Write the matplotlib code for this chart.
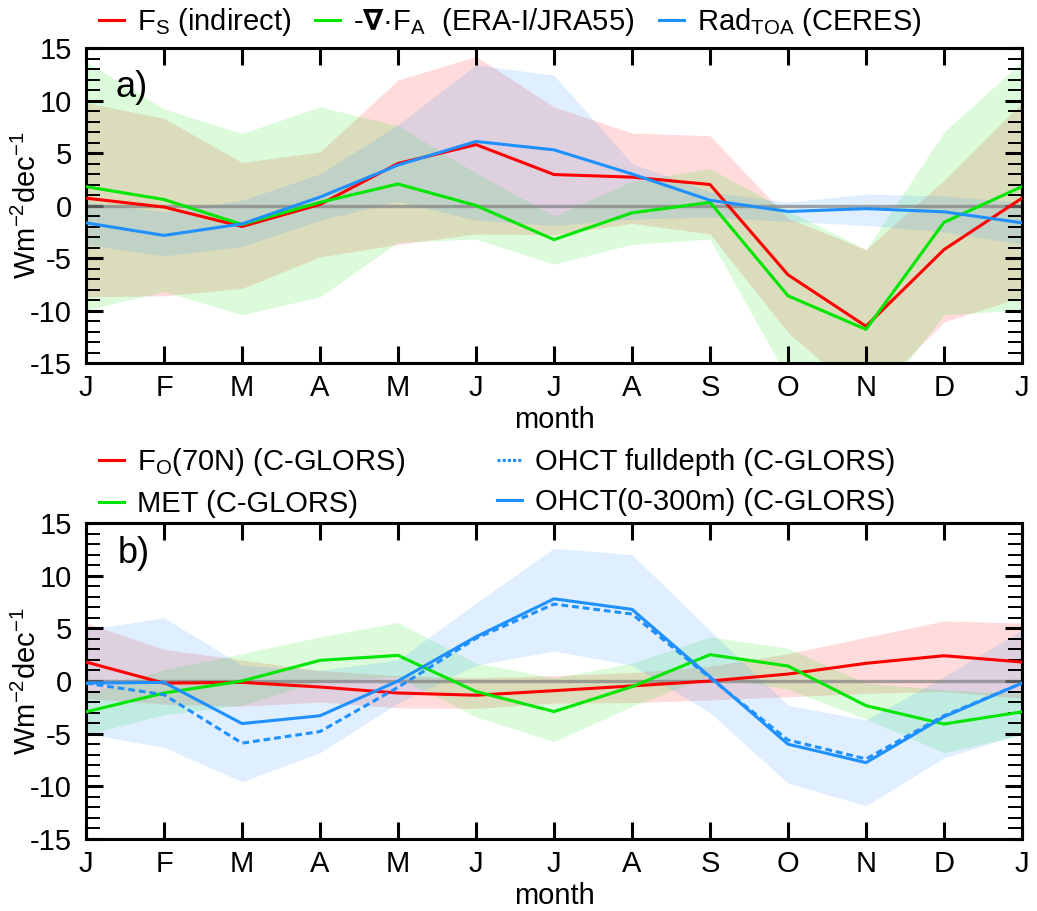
import matplotlib
matplotlib.use("Agg")
import matplotlib.pyplot as plt
import numpy as np
from matplotlib.lines import Line2D
from matplotlib.ticker import MultipleLocator

plt.rcParams['font.family'] = ['Liberation Sans', 'DejaVu Sans']
plt.rcParams['mathtext.default'] = 'regular'
plt.rcParams['axes.unicode_minus'] = False

months = ['J', 'F', 'M', 'A', 'M', 'J', 'J', 'A', 'S', 'O', 'N', 'D', 'J']

# ---- panel a ----
fs = [0.7, -0.15, -2.0, 0.1, 4.0, 5.8, 2.95, 2.7, 2.0, -6.6, -11.5, -4.2, 0.7]
fs_lo = [-8.7, -8.6, -7.9, -4.9, -3.7, -2.7, -2.8, -1.7, -2.7, -12.1, -18.5, -11.1, -8.7]
fs_hi = [9.8, 8.3, 4.1, 5.1, 11.95, 14.2, 9.4, 6.9, 6.65, -1.2, -4.2, 2.4, 9.8]

divfa = [1.8, 0.57, -1.8, 0.3, 2.05, 0.0, -3.25, -0.7, 0.3, -8.6, -11.8, -1.6, 1.8]
divfa_lo = [-9.95, -8.2, -10.4, -8.7, -3.5, -3.2, -5.6, -3.7, -3.2, -16.5, -20.0, -10.4, -9.95]
divfa_hi = [13.7, 9.2, 6.85, 9.4, 7.6, 3.1, -1.0, 2.3, 3.5, -0.5, -4.2, 7.0, 13.7]

rad = [-1.65, -2.85, -1.75, 0.8, 3.85, 6.1, 5.3, 3.0, 0.5, -0.57, -0.3, -0.6, -1.65]
rad_lo = [-3.7, -4.8, -3.9, -1.4, 0.4, -1.4, -1.9, -1.3, -1.1, -1.5, -1.9, -2.5, -3.7]
rad_hi = [0.3, -0.6, 0.5, 3.0, 7.7, 13.4, 12.4, 4.0, 1.3, 0.3, 1.1, 0.9, 0.3]

# ---- panel b ----
fo = [1.8, -0.2, -0.13, -0.57, -1.14, -1.35, -0.92, -0.47, 0.0, 0.66, 1.68, 2.4, 1.8]
fo_lo = [-1.65, -2.2, -2.4, -2.0, -2.55, -2.6, -2.1, -2.05, -1.8, -1.5, -1.17, -1.0, -1.65]
fo_hi = [5.5, 3.0, 2.0, 1.0, 0.5, 0.3, 0.5, 0.8, 1.4, 2.6, 4.15, 5.7, 5.5]

met = [-2.93, -1.14, 0.0, 1.96, 2.43, -1.0, -2.9, -0.54, 2.5, 1.42, -2.34, -4.08, -2.93]
met_lo = [-5.1, -3.2, -2.3, 0.0, 0.4, -3.4, -5.76, -2.4, 0.5, -0.8, -3.6, -6.8, -5.1]
met_hi = [-1.2, 1.07, 2.6, 4.2, 5.55, 1.7, 0.3, 1.7, 4.2, 3.1, -0.2, -0.85, -1.2]

ohct300 = [-0.2, -0.13, -4.04, -3.3, 0.0, 4.2, 7.8, 6.8, 0.4, -6.0, -7.75, -3.4, -0.2]
ohct_full = [-0.2, -1.3, -5.9, -4.8, -0.6, 4.05, 7.3, 6.36, 0.3, -5.6, -7.4, -3.3, -0.2]
ohct_lo = [-5.0, -6.3, -9.56, -6.8, -2.1, 1.5, 2.85, 1.5, -3.0, -9.7, -11.85, -7.3, -5.0]
ohct_hi = [4.86, 6.0, 1.5, 1.0, 2.0, 7.4, 12.6, 12.0, 4.8, -2.3, -3.7, 0.4, 4.86]

RED = '#ff0000'
GREEN = '#00e600'
BLUE = '#1e90ff'
FS = 21
ALPHA = 0.14

x = np.arange(len(months))

fig = plt.figure(figsize=(10.37, 9.11), dpi=100)
W, H = 1037, 911
axa = fig.add_axes([86 / W, 1 - 363 / H, 936 / W, 315 / H])
axb = fig.add_axes([86 / W, 1 - 839 / H, 936 / W, 316 / H])


def style(ax):
    ax.set_xlim(0, 12)
    ax.set_ylim(-15, 15)
    ax.set_xticks(x)
    ax.set_xticklabels(months, fontsize=FS)
    ax.yaxis.set_major_locator(MultipleLocator(5))
    ax.yaxis.set_minor_locator(MultipleLocator(1))
    ax.tick_params(axis='both', which='major', direction='in', length=12,
                   width=2.2, labelsize=FS, top=True, right=True)
    ax.tick_params(axis='y', which='minor', direction='in', length=10,
                   width=1.4, left=True, right=True)
    ax.tick_params(axis='y', which='major', pad=10)
    ax.tick_params(axis='x', which='major', pad=8)
    for s in ax.spines.values():
        s.set_linewidth(2.2)
    ax.axhline(0, color='#808080', alpha=0.7, lw=2.4, zorder=2)
    ax.set_xlabel('month', fontsize=FS)
    ax.set_ylabel('Wm$^{-2}$dec$^{-1}$', fontsize=FS)
    ax.yaxis.set_label_coords(-0.047, 0.5)


# panel a
axa.fill_between(x, fs_lo, fs_hi, color=RED, alpha=ALPHA, lw=0, zorder=1)
axa.fill_between(x, divfa_lo, divfa_hi, color=GREEN, alpha=ALPHA, lw=0, zorder=1)
axa.fill_between(x, rad_lo, rad_hi, color=BLUE, alpha=ALPHA, lw=0, zorder=1)
style(axa)
axa.plot(x, fs, color=RED, lw=2.2, zorder=3)
axa.plot(x, divfa, color=GREEN, lw=2.2, zorder=3)
axa.plot(x, rad, color=BLUE, lw=2.2, zorder=3)
axa.xaxis.set_label_coords(0.5, -0.135)
axa.text(0.031, 0.875, 'a)', transform=axa.transAxes, fontsize=26,
         ha='left', va='center')

# panel b
axb.fill_between(x, fo_lo, fo_hi, color=RED, alpha=ALPHA, lw=0, zorder=1)
axb.fill_between(x, met_lo, met_hi, color=GREEN, alpha=ALPHA, lw=0, zorder=1)
axb.fill_between(x, ohct_lo, ohct_hi, color=BLUE, alpha=ALPHA, lw=0, zorder=1)
style(axb)
axb.plot(x, fo, color=RED, lw=2.2, zorder=3)
axb.plot(x, met, color=GREEN, lw=2.2, zorder=3)
axb.plot(x, ohct_full, color=BLUE, lw=2.2, ls=(0, (2.2, 1.3)), zorder=3)
axb.plot(x, ohct300, color=BLUE, lw=2.2, zorder=3)
axb.xaxis.set_label_coords(0.5, -0.135)
axb.text(0.034, 0.905, 'b)', transform=axb.transAxes, fontsize=26,
         ha='left', va='center')


def add_leg(handles, labels, xpx, ypx, labelspacing=0.3):
    leg = fig.legend(handles, labels, loc='center left',
                     bbox_to_anchor=(xpx / W, 1 - ypx / H), frameon=False,
                     fontsize=FS, handlelength=0.85, handletextpad=0.45,
                     borderpad=0, borderaxespad=0, labelspacing=labelspacing)
    return leg


h = lambda c, ls='-': Line2D([], [], color=c, lw=2.2, ls=ls)

add_leg([h(RED)], ['F$_S$ (indirect)'], 99, 22)
add_leg([h(GREEN)], ['-$\\mathbf{\\nabla}$\u00b7F$_A$  (ERA-I/JRA55)'], 315, 22)
add_leg([h(BLUE)], ['Rad$_{TOA}$ (CERES)'], 659, 22)

add_leg([h(RED), h(GREEN)], ['F$_O$(70N) (C-GLORS)', 'MET (C-GLORS)'], 99, 482,
        labelspacing=0.42)
add_leg([h(BLUE, (0, (1.0, 0.7))), h(BLUE)],
        ['OHCT fulldepth (C-GLORS)', 'OHCT(0-300m) (C-GLORS)'], 497, 482,
        labelspacing=0.42)

fig.savefig('out.png', dpi=100)
